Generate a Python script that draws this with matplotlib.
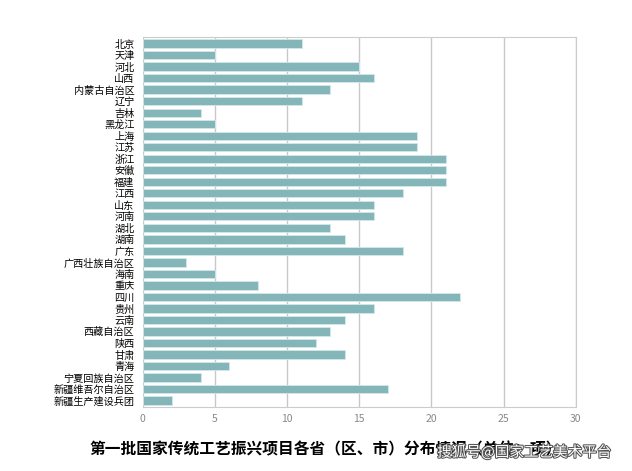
import matplotlib
matplotlib.use('Agg')
import matplotlib.pyplot as plt
import matplotlib.patheffects as pe

plt.rcParams['font.family'] = ['Noto Sans CJK SC', 'DejaVu Sans']

provinces = ['北京', '天津', '河北', '山西', '内蒙古自治区', '辽宁', '吉林', '黑龙江',
             '上海', '江苏', '浙江', '安徽', '福建', '江西', '山东', '河南',
             '湖北', '湖南', '广东', '广西壮族自治区', '海南', '重庆', '四川', '贵州',
             '云南', '西藏自治区', '陕西', '甘肃', '青海', '宁夏回族自治区',
             '新疆维吾尔自治区', '新疆生产建设兵团']
counts = [11, 5, 15, 16, 13, 11, 4, 5,
          19, 19, 21, 21, 21, 18, 16, 16,
          13, 14, 18, 3, 5, 8, 22, 16,
          14, 13, 12, 14, 6, 4,
          17, 2]
xticks = [0, 5, 10, 15, 20, 25, 30]

title = '第一批国家传统工艺振兴项目各省（区、市）分布情况（单位：项）'
watermark = '搜狐号@国家工艺美术平台'

fig = plt.figure(figsize=(6.32, 4.71), dpi=100)
ax = fig.add_axes([0.226, 0.136, 0.685, 0.785])

ypos = list(range(len(provinces)))
ax.barh(ypos, counts, height=0.72, color='#84b5b9', edgecolor='#d4e8ea', linewidth=0.6, zorder=3)
ax.set_yticks(ypos)
ax.set_yticklabels(provinces, fontsize=7.3)
ax.set_ylim(len(provinces) - 0.45, -0.55)
ax.set_xlim(0, 30)
ax.set_xticks(xticks)
ax.tick_params(axis='x', labelsize=7.5, labelcolor='#888888', length=0, pad=5)
ax.tick_params(axis='y', length=0, pad=6)
ax.grid(axis='x', color='#c8c8c8', linewidth=1, zorder=0)

for side in ['top', 'right', 'bottom', 'left']:
    ax.spines[side].set_color('#cccccc')
ax.spines['left'].set_visible(False)

# title sits under the chart; the site watermark is stamped over its right end
fig.text(0.515, 0.045, title, ha='center', va='center', fontsize=11.3, fontweight='bold')
fig.text(0.83, 0.04, watermark, ha='center', va='center', fontsize=10.5, color='white',
         path_effects=[pe.withStroke(linewidth=1.5, foreground='#555555')])

fig.savefig('out.png', dpi=100)
